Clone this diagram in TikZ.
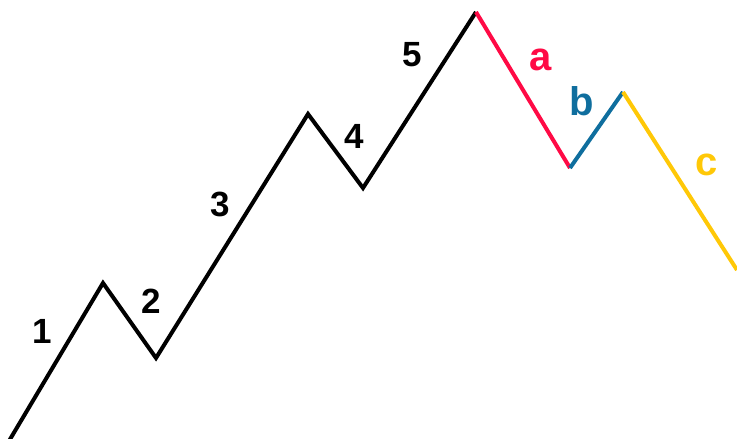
\documentclass[tikz,border=0pt]{standalone}
\usepackage{fontspec}
\setmainfont{Liberation Sans}
\definecolor{wred}{HTML}{FF0A45}
\definecolor{wblue}{HTML}{0F6E9E}
\definecolor{wyellow}{HTML}{FFC807}
\tikzset{
  wave/.style={line width=4pt, line join=miter, line cap=butt},
  digit/.style={anchor=base, inner sep=0pt, font=\fontsize{35}{35}\selectfont\bfseries},
  letter/.style={anchor=base, inner sep=0pt, font=\fontsize{40}{40}\selectfont\bfseries},
}
\begin{document}
\begin{tikzpicture}[x=1pt,y=-1pt]
\useasboundingbox (0,0) rectangle (737,439);
\coordinate (p0) at (9,441);
\coordinate (p1) at (103,283);
\coordinate (p2) at (156,358);
\coordinate (p3) at (308,114);
\coordinate (p4) at (363,188);
\coordinate (p5) at (476,12);
\coordinate (pa) at (570,168);
\coordinate (pb) at (623,92);
\coordinate (pc) at (737,270);
\draw[wave, black] (p0) -- (p1) -- (p2) -- (p3) -- (p4) -- (p5);
\draw[wave, wred] (p5) -- (pa);
\draw[wave, wblue] (pa) -- (pb);
\draw[wave, wyellow] (pb) -- (pc);
\node[digit] (l1) at (42,343) {1};
\node[digit] (l2) at (151,313) {2};
\node[digit] (l3) at (220,216) {3};
\node[digit] (l4) at (354,148) {4};
\node[digit] (l5) at (412,66) {5};
\node[letter, text=wred] (la) at (541,70) {a};
\node[letter, text=wblue] (lb) at (582,115) {b};
\node[letter, text=wyellow] (lc) at (707,175) {c};
\end{tikzpicture}
\end{document}
